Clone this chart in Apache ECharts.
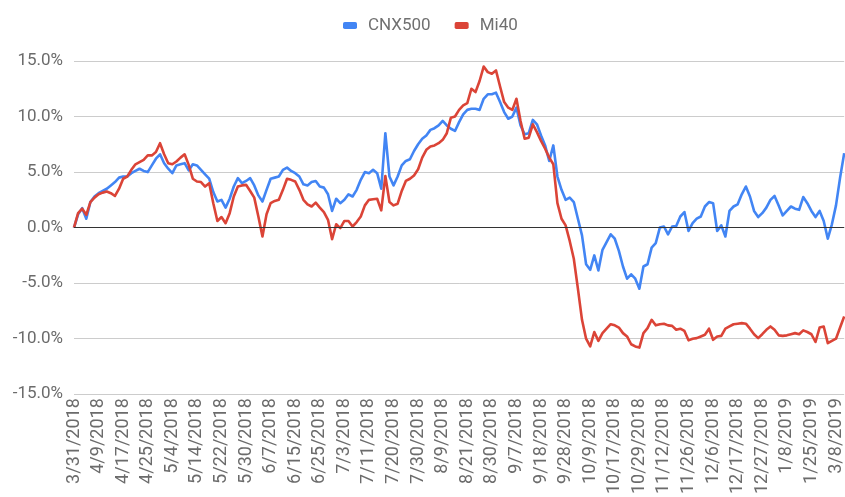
<!DOCTYPE html>
<html>
<head>
<meta charset="utf-8">
<script src="https://cdn.jsdelivr.net/npm/echarts@6/dist/echarts.min.js"></script>
<style>
html,body{margin:0;padding:0;background:#fff;}
#chart{width:845px;height:497px;}
</style>
</head>
<body>
<div id="chart"></div>
<script>
// Tick labels, one every 6 trading days
const tickLabels = ["3/31/2018","4/9/2018","4/17/2018","4/25/2018","5/4/2018","5/14/2018","5/22/2018","5/30/2018","6/7/2018","6/15/2018","6/25/2018","7/3/2018","7/11/2018","7/20/2018","7/30/2018","8/9/2018","8/21/2018","8/30/2018","9/7/2018","9/18/2018","9/28/2018","10/9/2018","10/17/2018","10/29/2018","11/12/2018","11/26/2018","12/6/2018","12/17/2018","12/27/2018","1/8/2019","1/25/2019","3/8/2019"];
const labelStep = 6;

const seriesNames = ["CNX500", "Mi40"];
const seriesColors = ["#4285F4", "#DB4437"];

// CNX500 cumulative return (%)
const cnx500 = [
0,1.2,1.75,0.8,2.3,2.8,3.1,3.3,3.5,3.8,
4.1,4.5,4.6,4.6,4.9,5.1,5.3,5.1,5.0,5.6,
6.2,6.6,5.8,5.3,4.9,5.6,5.7,5.8,5.15,5.7,
5.6,5.2,4.8,4.4,3.2,2.35,2.5,1.8,2.6,3.7,
4.45,4.0,4.2,4.45,3.8,2.9,2.35,3.4,4.4,4.5,
4.6,5.2,5.4,5.1,4.9,4.6,3.9,3.8,4.1,4.2,
3.7,3.6,3.0,1.5,2.6,2.2,2.5,3.0,2.8,3.4,
4.3,5.0,4.9,5.2,4.9,3.5,8.5,4.6,3.8,4.6,
5.6,6.0,6.15,6.9,7.5,8.0,8.3,8.8,8.95,9.2,
9.6,9.2,8.9,8.7,9.5,10.2,10.6,10.7,10.7,10.6,
11.6,12.0,12.0,12.15,11.3,10.4,9.8,10.0,10.8,9.2,
8.4,8.5,9.7,9.3,8.3,7.4,6.0,7.4,4.6,3.4,
2.5,2.7,2.3,0.8,-0.7,-3.3,-3.8,-2.5,-3.85,-2.0,
-1.3,-0.6,-1.0,-2.1,-3.5,-4.6,-4.2,-4.6,-5.5,-3.5,
-3.3,-1.8,-1.4,0.0,0.1,-0.6,0.1,0.15,1.0,1.4,
-0.3,0.4,0.8,1.0,1.9,2.3,2.2,-0.3,0.2,-0.8,
1.5,1.9,2.1,3.0,3.7,2.8,1.5,0.95,1.3,1.8,
2.5,2.85,2.0,1.1,1.5,1.9,1.7,1.6,2.75,2.2,
1.5,0.95,1.5,0.6,-1.0,0.3,2.0,4.5,6.7
];

// Mi40 cumulative return (%)
const mi40 = [
0,1.3,1.7,1.15,2.3,2.7,3.0,3.15,3.25,3.1,
2.85,3.5,4.4,4.6,5.2,5.7,5.9,6.1,6.5,6.5,
6.8,7.6,6.6,5.8,5.7,5.95,6.3,6.6,5.65,4.4,
4.15,4.1,3.7,4.0,2.2,0.6,0.95,0.4,1.3,2.8,
3.7,3.8,3.85,3.3,2.7,1.0,-0.8,1.2,2.2,2.4,
2.5,3.4,4.4,4.3,4.15,3.4,2.5,2.1,1.9,2.25,
1.8,1.4,0.7,-1.05,0.3,-0.05,0.6,0.6,0.1,0.5,
1.0,2.0,2.5,2.55,2.6,1.55,4.65,2.3,2.0,2.15,
3.3,4.2,4.4,4.7,5.25,6.3,7.0,7.3,7.4,7.6,
7.9,8.5,9.9,10.0,10.6,11.0,11.2,12.5,12.2,13.2,
14.5,14.0,13.85,14.15,12.7,11.3,10.8,10.6,11.6,9.6,
8.0,8.1,9.3,8.6,7.8,7.1,6.3,5.7,2.2,0.8,
0.2,-1.2,-2.8,-5.5,-8.3,-10.0,-10.7,-9.4,-10.2,-9.5,
-9.1,-8.7,-8.8,-9.0,-9.5,-9.8,-10.5,-10.7,-10.8,-9.5,
-9.05,-8.3,-8.8,-8.7,-8.65,-8.8,-8.85,-9.2,-9.1,-9.3,
-10.15,-10.0,-9.95,-9.8,-9.65,-9.1,-10.1,-9.8,-9.75,-9.1,
-8.9,-8.7,-8.65,-8.6,-8.65,-9.1,-9.6,-9.95,-9.6,-9.2,
-8.9,-9.2,-9.7,-9.75,-9.7,-9.6,-9.5,-9.6,-9.25,-9.4,
-9.6,-10.3,-9.0,-8.9,-10.4,-10.2,-10.0,-9.0,-8.0
];

const yTicks = [-15, -10, -5, 0, 5, 10, 15];

const toPairs = arr => arr.map((v, i) => [i, v]);
const lastIndex = Math.max(cnx500.length, mi40.length) - 1;

const chart = echarts.init(document.getElementById('chart'), null, {renderer: 'canvas'});

chart.setOption({
  animation: false,
  backgroundColor: '#ffffff',
  legend: {
    top: 12,
    left: 338,
    icon: 'roundRect',
    itemWidth: 14,
    itemHeight: 7,
    itemGap: 24,
    data: seriesNames,
    textStyle: {fontFamily: 'Roboto', fontSize: 17, color: '#707070', padding: [0, 0, 0, 6]}
  },
  grid: {left: 74, right: 0, top: 61, bottom: 94, containLabel: false},
  xAxis: {
    type: 'value',
    min: 0,
    max: lastIndex,
    interval: labelStep,
    axisLine: {show: false},
    axisTick: {show: false},
    splitLine: {show: false},
    axisLabel: {
      rotate: 90,
      margin: 4,
      fontFamily: 'Roboto',
      fontSize: 18,
      color: '#6b6b6b',
      formatter: v => (v % labelStep === 0 && tickLabels[v / labelStep]) ? tickLabels[v / labelStep] : ''
    }
  },
  yAxis: {
    type: 'value',
    min: yTicks[0],
    max: yTicks[yTicks.length - 1],
    interval: 5,
    axisLine: {show: false},
    axisTick: {show: false},
    splitLine: {lineStyle: {color: '#cccccc', width: 1}},
    axisLabel: {margin: 11, fontFamily: 'Roboto', fontSize: 17, color: '#6b6b6b', formatter: v => v.toFixed(1) + '%'}
  },
  series: [
    {
      name: 'baseline',
      type: 'line',
      data: [],
      z: 1,
      silent: true,
      markLine: {
        silent: true,
        symbol: ['none', 'none'],
        label: {show: false},
        lineStyle: {color: '#333333', width: 1.2, type: 'solid'},
        data: [{yAxis: 0}]
      }
    },
    {
      name: seriesNames[0],
      type: 'line',
      z: 3,
      showSymbol: false,
      color: seriesColors[0],
      data: toPairs(cnx500),
      lineStyle: {width: 2.6, join: 'round', color: seriesColors[0]}
    },
    {
      name: seriesNames[1],
      type: 'line',
      z: 4,
      showSymbol: false,
      color: seriesColors[1],
      data: toPairs(mi40),
      lineStyle: {width: 2.6, join: 'round', color: seriesColors[1]}
    }
  ]
});
</script>
</body>
</html>
